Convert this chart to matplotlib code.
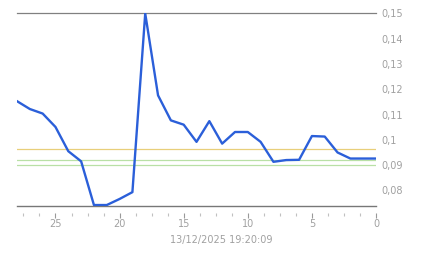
import matplotlib
matplotlib.use("Agg")
import matplotlib.pyplot as plt
from matplotlib.ticker import MultipleLocator, FuncFormatter

# data (x = steps back in time, 28 -> 0)
steps = list(range(28, -1, -1))
values = [0.1153, 0.1122, 0.1104, 0.1051, 0.0955, 0.0915, 0.0742, 0.0742,
          0.0766, 0.0793, 0.1500, 0.1176, 0.1077, 0.1060, 0.0992, 0.1074,
          0.0985, 0.1031, 0.1031, 0.0992, 0.0913, 0.0920, 0.0921, 0.1015,
          0.1013, 0.0950, 0.0926, 0.0926, 0.0926]
yellow_level = 0.0964
green_levels = [0.0922, 0.0900]
timestamp = "13/12/2025 19:20:09"
y_min, y_max = 0.0737, 0.15

fig = plt.figure(figsize=(4.43, 2.58), dpi=100)
ax = fig.add_axes([0.0384, 0.2004, 0.8104, 0.7473])

ax.axhline(yellow_level, color='#e8cf7a', lw=0.9, zorder=1)
for g in green_levels:
    ax.axhline(g, color='#b9e0a6', lw=0.9, zorder=1)
ax.axhline(y_min, color='#777777', lw=1.0, zorder=2, clip_on=False)

ax.plot(steps, values, color='#2b5fd9', lw=1.7, zorder=3, solid_joinstyle='round')

ax.set_xlim(28, 0)
ax.set_ylim(y_min, y_max)

for s in ['left', 'right']:
    ax.spines[s].set_visible(False)
ax.spines['top'].set_color('#808080')
ax.spines['top'].set_linewidth(0.9)
ax.spines['bottom'].set_position(('outward', 5))
ax.spines['bottom'].set_color('none')

ax.xaxis.set_major_locator(MultipleLocator(5))
ax.xaxis.set_minor_locator(MultipleLocator(1.25))
ax.tick_params(axis='x', which='major', direction='out', length=3.5, width=0.8,
               color='#999999', labelcolor='#a0a0a0', labelsize=7, pad=1)
ax.tick_params(axis='x', which='minor', direction='out', length=2, width=0.8,
               color='#c0c0c0')

ax.yaxis.tick_right()
ax.set_yticks([0.08, 0.09, 0.10, 0.11, 0.12, 0.13, 0.14, 0.15])
ax.yaxis.set_major_formatter(FuncFormatter(lambda v, p: ('%g' % round(v, 2)).replace('.', ',')))
ax.tick_params(axis='y', length=0, labelcolor='#a0a0a0', labelsize=7, pad=4)

fig.text(0.5, 1 - 240 / 258, timestamp, ha='center', va='center',
         color='#a0a0a0', fontsize=7)

fig.savefig('out.png', dpi=100)
